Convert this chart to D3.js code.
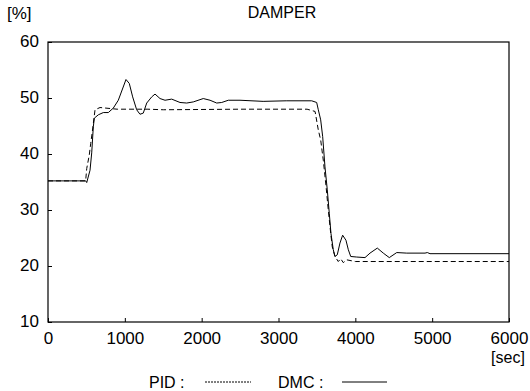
<!DOCTYPE html>
<html>
<head>
<meta charset="utf-8">
<script src="https://cdn.jsdelivr.net/npm/d3@7"></script>
<style>
  body { margin: 0; background: #fff; }
  text { font-family: "Liberation Sans", Arial, sans-serif; }
</style>
</head>
<body>
<div id="chart_div"></div>
<script>
// PID response (dashed)
const pidTime = [0, 490, 504, 537, 556, 577, 612, 677, 900, 1300, 1500, 2500, 3372, 3476, 3518, 3549, 3583, 3619, 3648, 3680, 3700, 3735, 3778, 3810, 3843, 3888, 4000, 6000];
const pidValue = [35.2, 35.2, 37.4, 39.8, 41.9, 44.0, 47.9, 48.3, 48.0, 48.0, 47.9, 48.0, 48.0, 47.6, 44.3, 42.5, 38.9, 34.2, 30.0, 25.8, 23.4, 21.7, 20.8, 21.3, 20.6, 21.1, 20.8, 20.8];

// DMC response (solid)
const dmcTime = [0, 491, 504, 547, 569, 590, 603, 655, 720, 785, 850, 915, 1015, 1058, 1102, 1154, 1197, 1240, 1285, 1350, 1393, 1458, 1523, 1610, 1718, 1805, 1891, 2021, 2109, 2196, 2261, 2347, 2499, 2800, 3100, 3432, 3497, 3518, 3549, 3575, 3605, 3635, 3661, 3683, 3713, 3735, 3765, 3800, 3835, 3878, 3909, 3940, 4018, 4126, 4191, 4286, 4364, 4442, 4539, 4669, 4907, 4937, 4972, 6000];
const dmcValue = [35.2, 35.2, 34.9, 37.1, 40.2, 44.9, 46.4, 47.0, 47.4, 47.4, 48.2, 49.6, 53.3, 52.6, 50.2, 47.9, 47.1, 47.3, 49.1, 50.2, 50.7, 49.9, 49.6, 49.8, 49.2, 49.1, 49.3, 49.9, 49.6, 49.1, 49.2, 49.6, 49.6, 49.4, 49.5, 49.5, 49.2, 47.9, 46.1, 43.1, 37.7, 33.6, 29.4, 25.8, 22.9, 21.7, 22.0, 24.1, 25.5, 24.6, 22.9, 21.7, 21.6, 21.5, 22.3, 23.2, 22.3, 21.5, 22.4, 22.3, 22.3, 22.4, 22.2, 22.2];

const xTicks = [0, 1000, 2000, 3000, 4000, 5000, 6000];
const yTicks = [10, 20, 30, 40, 50, 60];

const width = 530;
const height = 391;
const plotLeft = 48, plotRight = 509, plotTop = 42, plotBottom = 322;
const fontSize = 17;

const svg = d3.select("#chart_div")
    .append("svg")
    .attr("width", width)
    .attr("height", height);

const x = d3.scaleLinear().domain([0, 6000]).range([plotLeft, plotRight]);
const y = d3.scaleLinear().domain([10, 60]).range([plotBottom, plotTop]);

const pid = pidTime.map((t, i) => [t, pidValue[i]]);
const dmc = dmcTime.map((t, i) => [t, dmcValue[i]]);

const line = d3.line().x(d => x(d[0])).y(d => y(d[1]));

svg.append("path")
    .datum(pid)
    .attr("d", line)
    .attr("fill", "none")
    .attr("stroke", "#000")
    .attr("stroke-width", 1)
    .attr("stroke-dasharray", "5,3");

svg.append("path")
    .datum(dmc)
    .attr("d", line)
    .attr("fill", "none")
    .attr("stroke", "#000")
    .attr("stroke-width", 1);

// axes with inward ticks
const xAxis = svg.append("g")
    .attr("transform", `translate(0,${plotBottom})`)
    .call(d3.axisBottom(x).tickValues(xTicks).tickFormat(d3.format("d"))
        .tickSizeInner(-4).tickSizeOuter(0).tickPadding(10));
const yAxis = svg.append("g")
    .attr("transform", `translate(${plotLeft},0)`)
    .call(d3.axisLeft(y).tickValues(yTicks).tickFormat(d3.format("d"))
        .tickSizeInner(-4).tickSizeOuter(0).tickPadding(9));

[xAxis, yAxis].forEach(g => {
    g.select(".domain").remove();
    g.selectAll("text").attr("font-size", fontSize).attr("fill", "#000")
        .attr("font-family", "'Liberation Sans', Arial, sans-serif");
    g.selectAll("line").attr("stroke", "#000");
});
yAxis.selectAll("text").attr("dy", "0.25em");

svg.append("rect")
    .attr("x", plotLeft).attr("y", plotTop)
    .attr("width", plotRight - plotLeft).attr("height", plotBottom - plotTop)
    .attr("fill", "none").attr("stroke", "#000").attr("stroke-width", 1.2);

svg.append("text").attr("x", 282).attr("y", 18).attr("text-anchor", "middle")
    .attr("font-size", 16).text("DAMPER");
svg.append("text").attr("x", 7).attr("y", 19)
    .attr("font-size", fontSize).text("[%]");
svg.append("text").attr("x", 508).attr("y", 363).attr("text-anchor", "middle")
    .attr("font-size", 16).text("[sec]");

// legend
svg.append("text").attr("x", 149).attr("y", 388).attr("font-size", 16).text("PID :");
svg.append("line").attr("x1", 205).attr("x2", 251).attr("y1", 382).attr("y2", 382)
    .attr("stroke", "#000").attr("stroke-width", 1).attr("stroke-dasharray", "2,1");
svg.append("text").attr("x", 278).attr("y", 388).attr("font-size", 16).text("DMC :");
svg.append("line").attr("x1", 342).attr("x2", 387).attr("y1", 382).attr("y2", 382)
    .attr("stroke", "#000").attr("stroke-width", 1);
</script>
</body>
</html>
